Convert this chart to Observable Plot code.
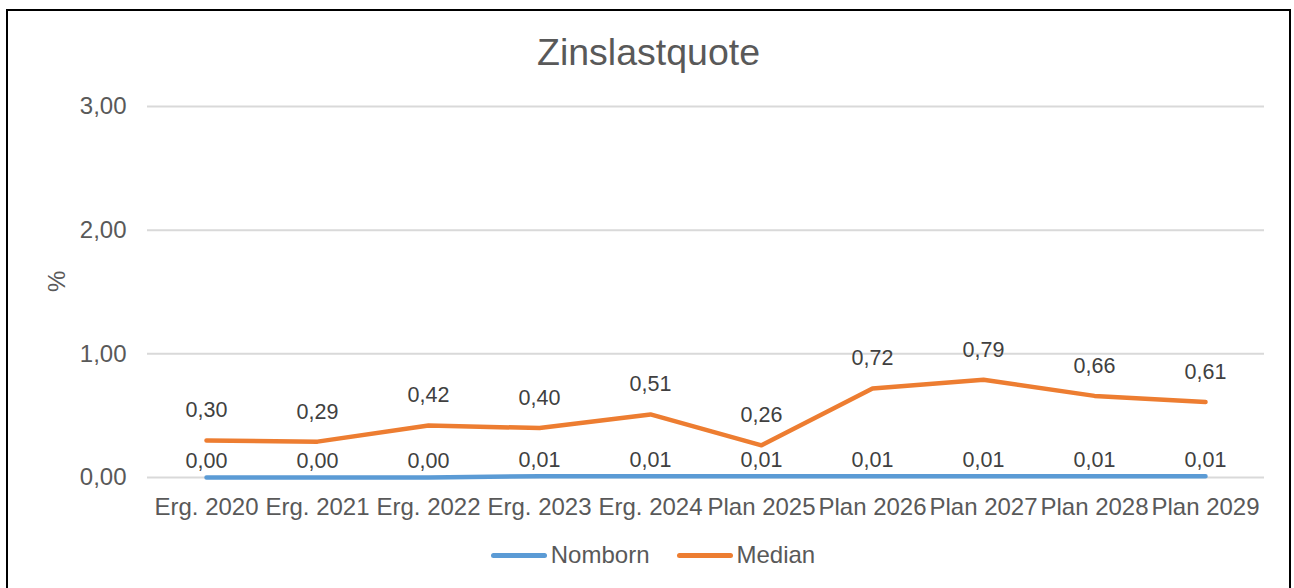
<!DOCTYPE html>
<html>
<head>
<meta charset="utf-8">
<script src="https://cdn.jsdelivr.net/npm/d3@7"></script>
<script src="https://cdn.jsdelivr.net/npm/@observablehq/plot@0.6"></script>
<style>
  html, body { margin: 0; padding: 0; background: #fff; }
  body { width: 1294px; height: 588px; overflow: hidden; position: relative; font-family: "Liberation Sans", Arial, sans-serif; }
  #frame { position: absolute; left: 6px; top: 9px; width: 1281px; height: 600px; border: 2px solid #000; box-sizing: content-box; }
  #title { position: absolute; left: 8px; top: 11px; width: 1281px; height: 82px; line-height: 82px; text-align: center; font-size: 37.5px; color: #595959; }
  #chart { position: absolute; left: 8px; top: 93px; }
  #legend { position: absolute; left: 13px; top: 538px; width: 1280px; height: 34px; display: flex; justify-content: center; align-items: center; font-size: 24px; color: #595959; }
  .item { display: flex; align-items: center; }
  .sw { width: 56px; height: 5px; border-radius: 3px; margin-right: 4px; }
</style>
</head>
<body>
<div id="frame"></div>
<div id="title">Zinslastquote</div>
<div id="chart"></div>
<div id="legend"></div>
<script>
const categories = ["Erg. 2020", "Erg. 2021", "Erg. 2022", "Erg. 2023", "Erg. 2024", "Plan 2025", "Plan 2026", "Plan 2027", "Plan 2028", "Plan 2029"];
const nomborn = [0.00, 0.00, 0.00, 0.01, 0.01, 0.01, 0.01, 0.01, 0.01, 0.01];
const median = [0.30, 0.29, 0.42, 0.40, 0.51, 0.26, 0.72, 0.79, 0.66, 0.61];
const yTicks = [0, 1, 2, 3];
const seriesNames = ["Nomborn", "Median"];
const seriesColors = ["#5B9BD5", "#ED7D31"];

const locale = d3.formatLocale({decimal: ",", thousands: ".", grouping: [3], currency: ["", " €"]});
const fmt = locale.format(".2f");

const dataN = categories.map((c, i) => ({cat: c, v: nomborn[i]}));
const dataM = categories.map((c, i) => ({cat: c, v: median[i]}));

const chart = Plot.plot({
  width: 1280,
  height: 429,
  marginLeft: 139,
  marginRight: 24,
  marginTop: 13,
  marginBottom: 45,
  style: {fontFamily: '"Liberation Sans", Arial, sans-serif', fontSize: "24px", color: "#595959", background: "#fff", overflow: "visible"},
  x: {type: "point", domain: categories, padding: 0.5},
  y: {domain: [0, 3]},
  marks: [
    Plot.ruleY(yTicks, {stroke: "#d9d9d9", strokeWidth: 2}),
    Plot.axisX({tickSize: 0, tickPadding: 20, label: null, fontSize: 24}),
    Plot.axisY({ticks: yTicks, tickFormat: fmt, tickSize: 0, tickPadding: 21, label: null, fontSize: 24}),
    Plot.text(["%"], {frameAnchor: "left", rotate: -90, dx: -90, fontSize: 24, fill: "#595959"}),
    Plot.line(dataN, {x: "cat", y: "v", stroke: seriesColors[0], strokeWidth: 4.5, strokeLinecap: "round", strokeLinejoin: "round"}),
    Plot.line(dataM, {x: "cat", y: "v", stroke: seriesColors[1], strokeWidth: 4.5, strokeLinecap: "round", strokeLinejoin: "round"}),
    Plot.text(dataN, {x: "cat", y: "v", text: d => fmt(d.v), dy: -16, fontSize: 21.5, fill: "#404040"}),
    Plot.text(dataM, {x: "cat", y: "v", text: d => fmt(d.v), dy: -30, fontSize: 21.5, fill: "#404040"})
  ]
});
document.getElementById("chart").appendChild(chart);

const legend = document.getElementById("legend");
seriesNames.forEach((name, i) => {
  const item = document.createElement("div");
  item.className = "item";
  if (i > 0) item.style.marginLeft = "27px";
  const sw = document.createElement("div");
  sw.className = "sw";
  sw.style.background = seriesColors[i];
  const label = document.createElement("span");
  label.textContent = name;
  item.appendChild(sw);
  item.appendChild(label);
  legend.appendChild(item);
});
</script>
</body>
</html>
